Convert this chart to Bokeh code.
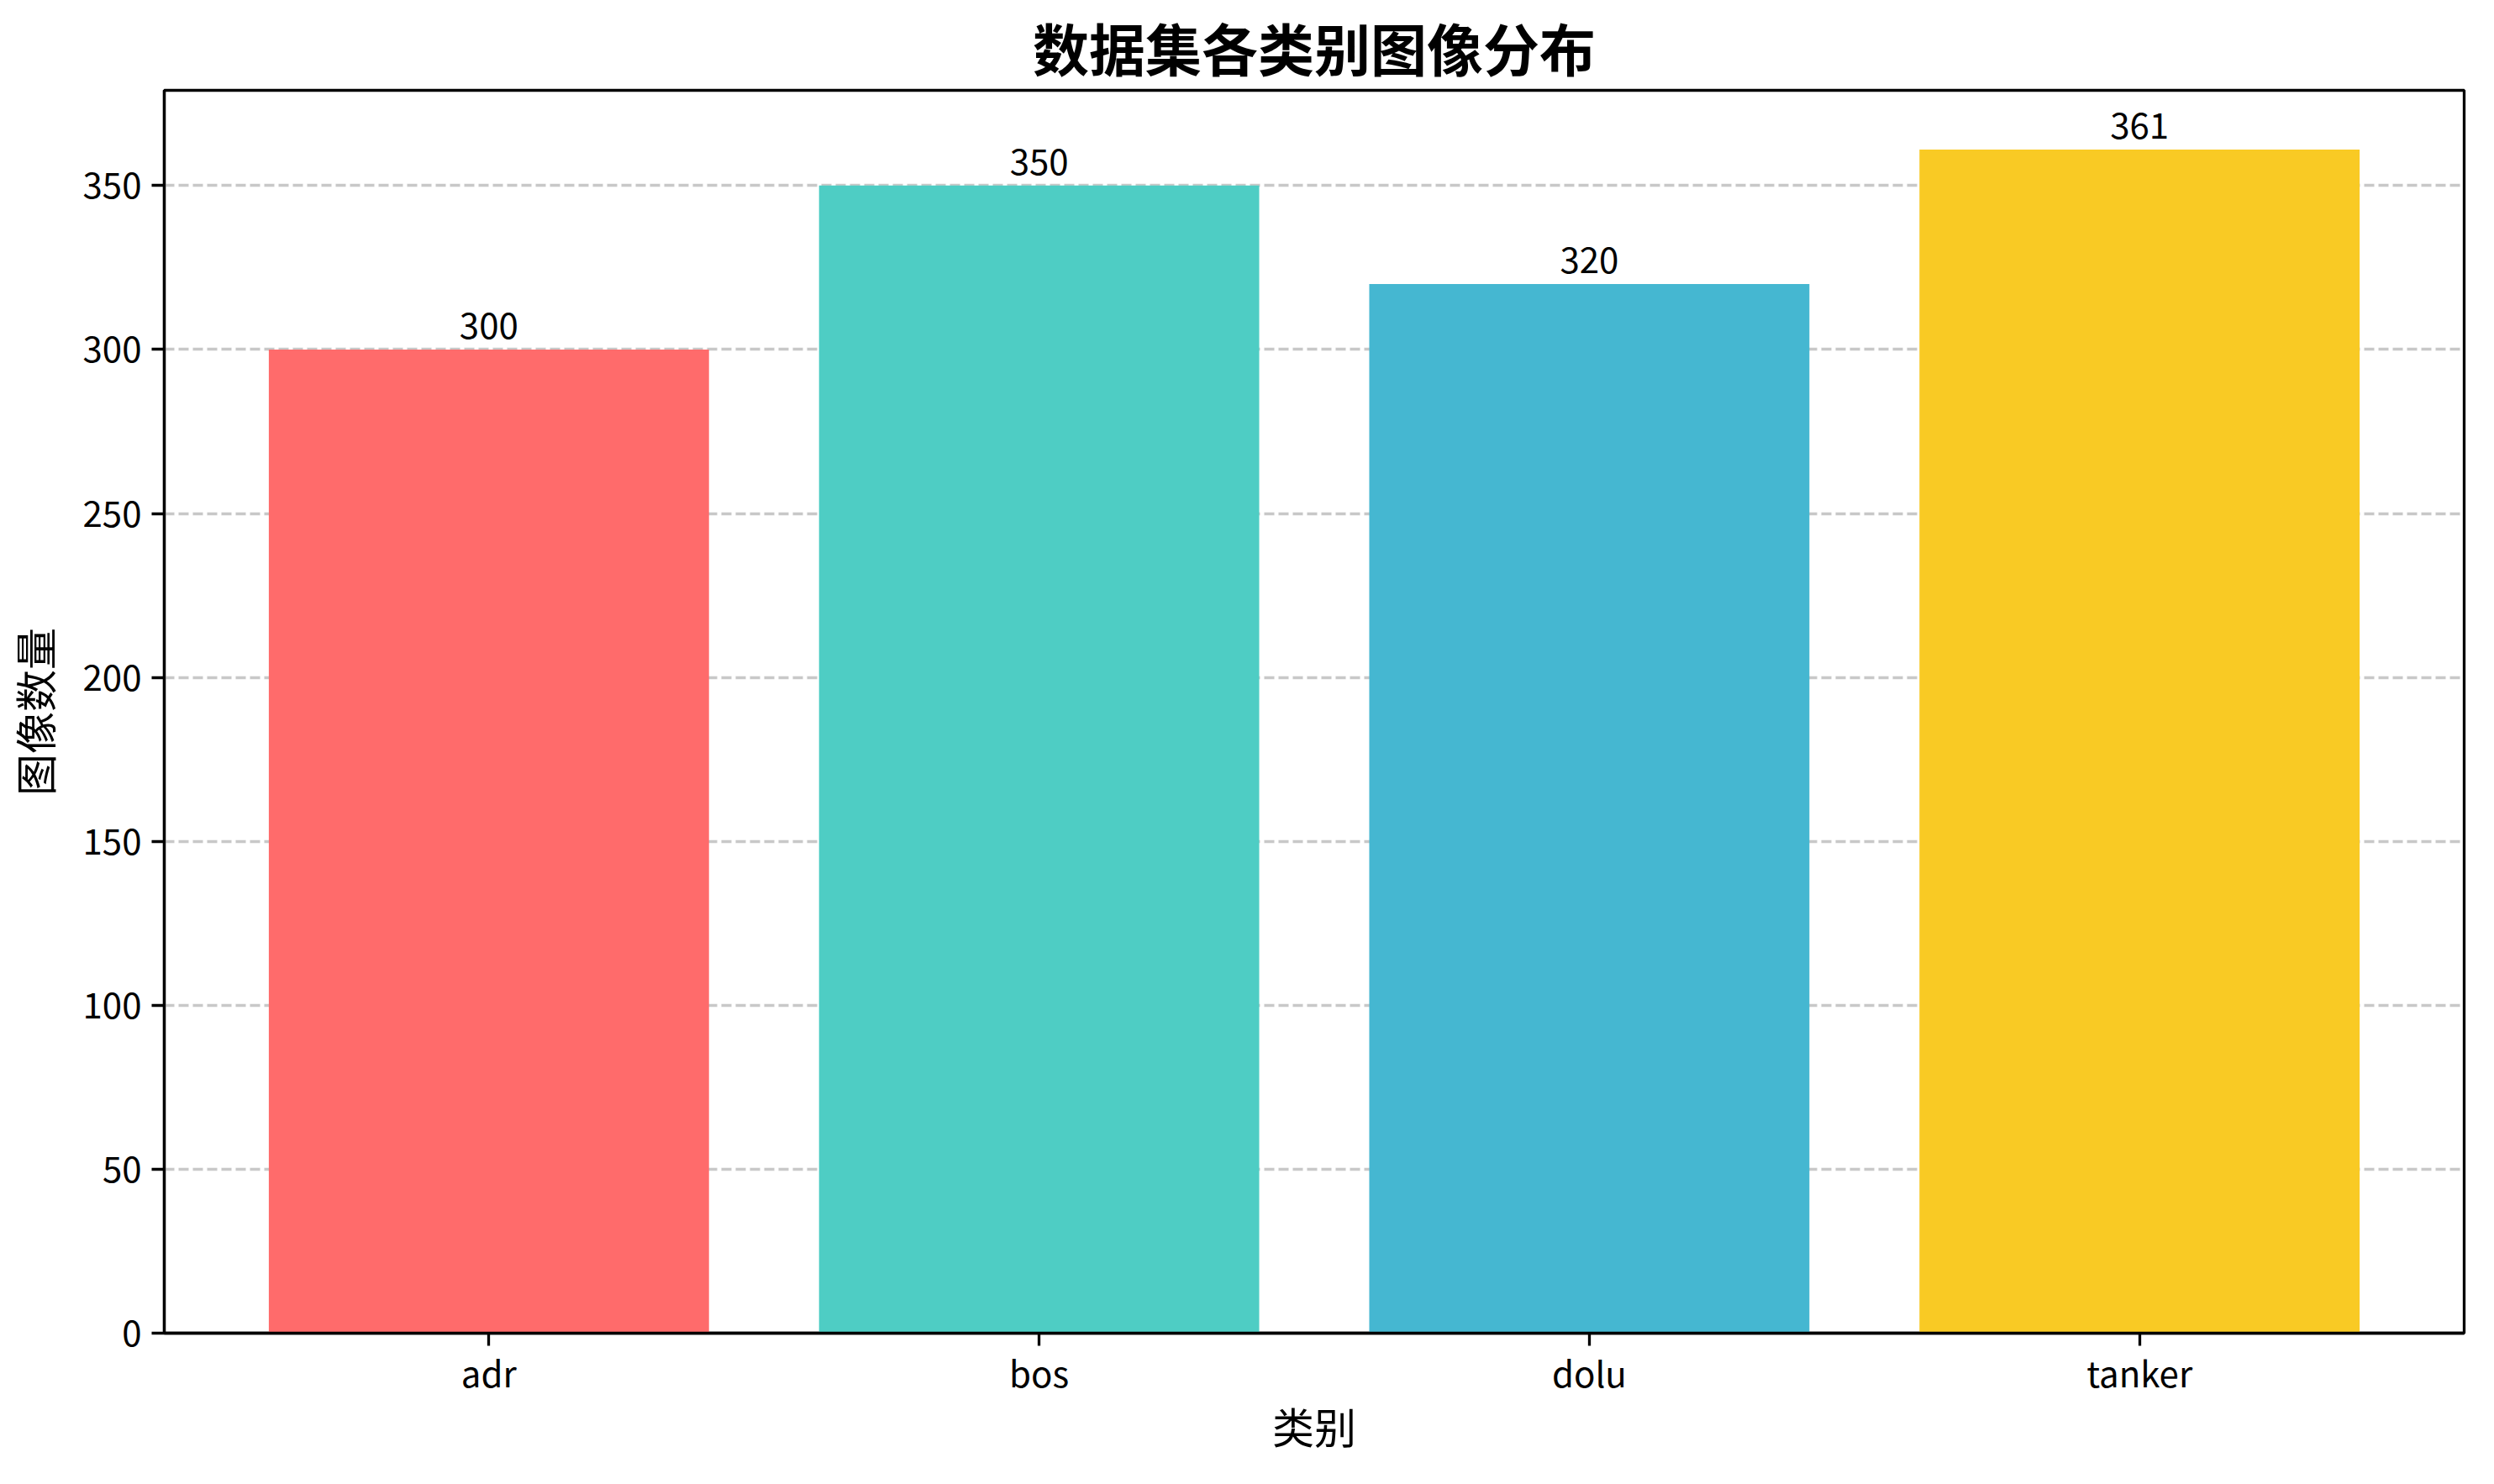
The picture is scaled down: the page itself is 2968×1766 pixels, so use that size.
from bokeh.plotting import figure
from bokeh.models import ColumnDataSource, LabelSet, SingleIntervalTicker, FixedTicker, Range1d
from bokeh.core.properties import value
from bokeh.embed import file_html
from bokeh.resources import INLINE

categories = ["adr", "bos", "dolu", "tanker"]
counts = [300, 350, 320, 361]
colors = ["#FF6B6B", "#4ECDC4", "#45B7D1", "#F9CA24"]
title_text = "数据集各类别图像分布"
x_label = "类别"
y_label = "图像数量"

FONT = "Noto Sans CJK SC"

xpos = list(range(len(categories)))
source = ColumnDataSource(data=dict(
    x=xpos,
    count=counts,
    color=colors,
    label=[str(c) for c in counts],
))

bar_width = 0.8
margin = 0.05 * (len(categories) - 1 + bar_width)

p = figure(
    x_range=Range1d(-bar_width / 2 - margin, len(categories) - 1 + bar_width / 2 + margin),
    y_range=Range1d(0, max(counts) * 1.05),
    width=2952, height=1750,
    output_backend="svg", toolbar_location=None,
    min_border_left=195, min_border_right=20,
    min_border_top=100, min_border_bottom=164,
)

p.vbar(x="x", top="count", width=bar_width, color="color", source=source, line_color=None)

labels = LabelSet(x="x", y="count", text="label", source=source,
                  text_align="center", text_baseline="alphabetic",
                  y_offset=13, text_font=value(FONT), text_font_size=value("42px"),
                  text_color="black")
p.add_layout(labels)

p.title.text = title_text
p.title.align = "center"
p.title.text_font = FONT
p.title.text_font_size = "67px"
p.title.text_font_style = "bold"
p.title.text_color = "black"
p.title.standoff = 8

p.background_fill_color = "white"
p.border_fill_color = "white"
p.outline_line_color = "black"
p.outline_line_width = 3.3

p.xgrid.grid_line_color = None
p.ygrid.grid_line_color = "#b0b0b0"
p.ygrid.grid_line_alpha = 0.7
p.ygrid.grid_line_width = 3.3
p.ygrid.grid_line_dash = "12 5"
p.ygrid.ticker = SingleIntervalTicker(interval=50)

p.yaxis.ticker = SingleIntervalTicker(interval=50)
p.xaxis.ticker = FixedTicker(ticks=xpos)
p.xaxis.major_label_overrides = {i: c for i, c in zip(xpos, categories)}

for ax in (p.xaxis[0], p.yaxis[0]):
    ax.axis_line_color = "black"
    ax.axis_line_width = 3.3
    ax.major_tick_line_color = "black"
    ax.major_tick_line_width = 3.3
    ax.major_tick_out = 15
    ax.major_tick_in = 0
    ax.minor_tick_line_color = None
    ax.major_label_text_font = FONT
    ax.major_label_text_font_size = "42px"
    ax.major_label_text_color = "black"
    ax.axis_label_text_font = FONT
    ax.axis_label_text_font_size = "50px"
    ax.axis_label_text_font_style = "normal"
    ax.axis_label_text_color = "black"

p.xaxis.axis_label = x_label
p.yaxis.axis_label = y_label
p.xaxis.major_label_standoff = 0
p.xaxis.axis_label_standoff = -6
p.yaxis.major_label_standoff = 12
p.yaxis.axis_label_standoff = 20
p.yaxis.major_label_orientation = "horizontal"

open("out.html", "w").write(file_html(p, INLINE))
